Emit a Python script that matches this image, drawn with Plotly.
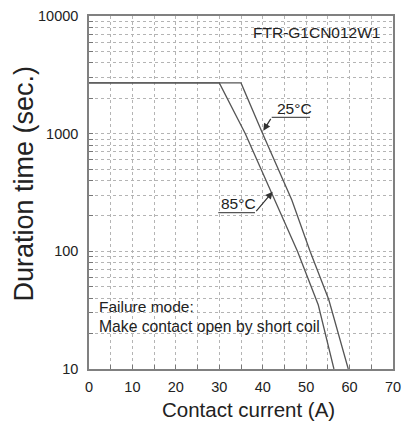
import numpy as np
import plotly.graph_objects as go

# ---- data ----
current_25 = [0, 35, 40.0, 46.7, 50.9, 55.2, 59.7]
time_25 = [2700, 2700, 1000, 273, 100, 39, 10]
current_85 = [0, 30, 36.0, 42.8, 48.0, 52.8, 56.4]
time_85 = [2700, 2700, 1000, 273, 100, 35, 10]

x_ticks = [0, 10, 20, 30, 40, 50, 60, 70]
y_ticks = [10, 100, 1000, 10000]
y_tick_labels = ["10", "100", "1000", "10000"]
y_minor = [m * d for d in (10, 100, 1000) for m in range(2, 10)]

FONT = "Liberation Sans, Arial, sans-serif"
TXT = "#222222"
LINE = "#555555"
GRID = "#b4b4b4"

fig = go.Figure()
fig.add_trace(go.Scatter(x=current_25, y=time_25, mode="lines",
                         line=dict(color=LINE, width=1.3), showlegend=False,
                         name="25°C"))
fig.add_trace(go.Scatter(x=current_85, y=time_85, mode="lines",
                         line=dict(color=LINE, width=1.3), showlegend=False,
                         name="85°C"))

# page body has an 8px margin, so the figure is 8px smaller than the window
L, R, T, B = 81, 19, 8, 54
fig.update_layout(
    width=404, height=415,
    margin=dict(l=L, r=R, t=T, b=B, pad=0),
    paper_bgcolor="white", plot_bgcolor="white",
    font=dict(family=FONT, color=TXT, size=14.5),
)
fig.update_xaxes(
    range=[0, 70], tickvals=x_ticks, ticks="inside", ticklen=4,
    tickcolor="#777777", tickwidth=1,
    showline=True, linecolor="#808080", linewidth=1.5, mirror=True,
    showgrid=True, gridcolor=GRID, griddash="dot", gridwidth=1,
    minor=dict(dtick=5, tick0=0, ticks="inside", ticklen=4, tickcolor="#777777",
               showgrid=True, gridcolor=GRID, griddash="dot", gridwidth=1),
    tickfont=dict(size=14.5, color=TXT), ticklabelstandoff=4,
    zeroline=False, fixedrange=True, automargin=False,
)
fig.update_yaxes(
    type="log", range=[1, 4], tickvals=y_ticks, ticktext=y_tick_labels,
    ticks="inside", ticklen=4, tickcolor="#777777", tickwidth=1,
    showline=True, linecolor="#808080", linewidth=1.5, mirror=True,
    showgrid=True, gridcolor=GRID, griddash="dot", gridwidth=1,
    minor=dict(tickvals=y_minor, ticks="inside", ticklen=4, tickcolor="#777777",
               showgrid=True, gridcolor=GRID, griddash="dot", gridwidth=1),
    tickfont=dict(size=14.5, color=TXT), ticklabelstandoff=6,
    zeroline=False, fixedrange=True, automargin=False,
)

# axis titles as annotations for exact placement
fig.add_annotation(text="Duration time (sec.)", xref="paper", yref="paper",
                   x=-0.214, y=0.525, textangle=-90, showarrow=False,
                   xanchor="center", yanchor="middle",
                   font=dict(size=27, color=TXT, family=FONT))
fig.add_annotation(text="Contact current (A)", xref="paper", yref="paper",
                   x=0.526, y=-0.116, showarrow=False,
                   xanchor="center", yanchor="middle",
                   font=dict(size=20.5, color=TXT, family=FONT))

# model name
fig.add_annotation(text="FTR-G1CN012W1", xref="paper", yref="paper",
                   x=0.965, y=0.952, showarrow=False,
                   xanchor="right", yanchor="middle",
                   font=dict(size=15.5, color=TXT, family=FONT))
# failure-mode note
fig.add_annotation(text="Failure mode:", xref="paper", yref="paper",
                   x=0.026, y=0.176, showarrow=False,
                   xanchor="left", yanchor="middle",
                   font=dict(size=15.5, color=TXT, family=FONT))
fig.add_annotation(text="Make contact open by short coil", xref="paper", yref="paper",
                   x=0.026, y=0.121, showarrow=False,
                   xanchor="left", yanchor="middle",
                   font=dict(size=15.7, color=TXT, family=FONT))

# curve labels with underline + leader arrow
labels = [
    # text, text pos, underline x0,x1,y, arrow tail, arrow head
    ("25°C", (47.4, 1641), (42.07, 50.9, 1374), (42.07, 1374), (40.13, 1060)),
    ("85°C", (34.4, 256), (29.77, 38.22, 213), (38.22, 213), (42.3, 321)),
]
for text, (tx, ty), (ux0, ux1, uy), (ax, ay), (hx, hy) in labels:
    fig.add_annotation(text=text, x=tx, y=np.log10(ty), xref="x", yref="y",
                       showarrow=False, xanchor="center", yanchor="middle",
                       font=dict(size=15.5, color=TXT, family=FONT))
    fig.add_shape(type="line", xref="x", yref="y", x0=ux0, x1=ux1, y0=uy, y1=uy,
                  line=dict(color=LINE, width=1.2))
    fig.add_annotation(text="", x=hx, y=np.log10(hy), xref="x", yref="y",
                       ax=ax, ay=np.log10(ay), axref="x", ayref="y",
                       showarrow=True, arrowhead=2, arrowsize=1.2, arrowwidth=1.2,
                       arrowcolor="#333333", standoff=0, startstandoff=0)

fig.write_html("out.html")
